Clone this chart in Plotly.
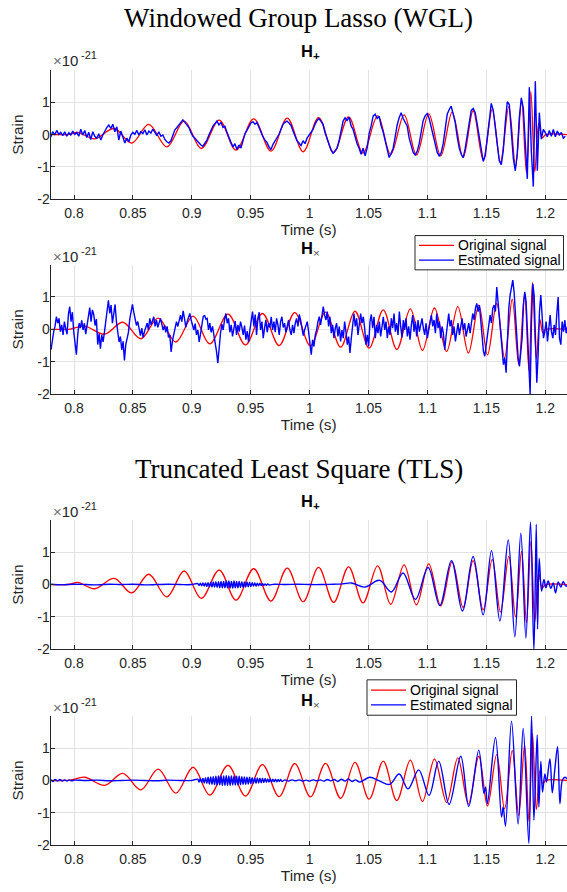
import numpy as np
import plotly.graph_objects as go

# ---------------- data (strain in units of 1e-21, time in s) ----------------
x_ticks = [0.8, 0.85, 0.9, 0.95, 1.0, 1.05, 1.1, 1.15, 1.2]
x_tick_labels = ["0.8", "0.85", "0.9", "0.95", "1", "1.05", "1.1", "1.15", "1.2"]
y_ticks = [-2, -1, 0, 1]
y_tick_labels = ["-2", "-1", "0", "1"]

# original plus polarisation (extrema of the chirp)
orig_plus_t = [0.78, 0.79, 0.7965, 0.803, 0.8175, 0.834, 0.849, 0.8634, 0.8788, 0.8935, 0.908,
               0.9232, 0.9375, 0.9525, 0.9672, 0.981, 0.9945, 1.0076, 1.0204, 1.0331, 1.0453,
               1.0577, 1.0688, 1.0802, 1.0907, 1.1011, 1.1113, 1.121, 1.1303, 1.1388, 1.1473,
               1.155, 1.162, 1.1691, 1.1748, 1.1799, 1.1841, 1.1878, 1.1912, 1.1945, 1.1975,
               1.2005, 1.2185]
orig_plus_v = [0, 0, 0.01, 0.07, -0.13, 0.19, -0.26, 0.32, -0.38, 0.42, -0.43,
               0.45, -0.48, 0.49, -0.51, 0.51, -0.53, 0.53, -0.55, 0.55, -0.57,
               0.58, -0.61, 0.61, -0.63, 0.64, -0.66, 0.70, -0.71, 0.74, -0.78,
               0.78, -0.85, 0.87, -1.0, 1.03, -1.18, 1.33, -1.15, 0.35, -0.1,
               0, 0]

# original cross polarisation
orig_cross_t = [0.78, 0.79, 0.797, 0.809, 0.826, 0.8414, 0.8567, 0.8714, 0.8864, 0.9011, 0.9152,
                0.9307, 0.9455, 0.9599, 0.9741, 0.9874, 1.0007, 1.0135, 1.0263, 1.0385, 1.0505,
                1.0625, 1.074, 1.0855, 1.0958, 1.106, 1.1163, 1.1258, 1.1348, 1.1436, 1.151,
                1.1588, 1.1655, 1.172, 1.1775, 1.1825, 1.1862, 1.1892, 1.1925, 1.1955, 1.198,
                1.2005, 1.2185]
orig_cross_v = [0, 0, 0.01, 0.1, -0.15, 0.22, -0.29, 0.35, -0.39, 0.41, -0.45,
                0.47, -0.48, 0.49, -0.5, 0.52, -0.51, 0.53, -0.55, 0.56, -0.58,
                0.6, -0.62, 0.63, -0.65, 0.66, -0.68, 0.70, -0.73, 0.75, -0.79,
                0.8, -0.88, 0.93, -1.08, 1.1, -1.27, 1.45, -0.9, 0.3, -0.1,
                0, 0]

# WGL estimate, plus polarisation: samples on a regular time grid
wgl_plus_t0 = 0.7802
wgl_plus_dt = 0.0017
wgl_plus_v = [
    -0.07, 0.09, -0.01, 0.13, 0.01, 0.07, -0.03, 0.09, -0.05, 0.06,
    -0.01, 0.11, 0.01, 0.07, -0.05, 0.17, -0.01, 0.13, -0.09, 0.07,
    -0.15, 0.09, -0.05, -0.11, 0.03, -0.17, -0.01, 0.11, 0.22, 0.30,
    0.19, 0.32, 0.09, 0.24, -0.17, 0.11, -0.11, -0.26, -0.11, -0.22,
    -0.01, 0.07, 0.01, 0.13, -0.01, 0.09, 0.03, 0.15, -0.01, 0.11,
    0.05, 0.17, 0.07, -0.03, 0.09, -0.05, -0.01, -0.15, -0.22, -0.26,
    -0.19, -0.01, 0.15, 0.22, 0.30, 0.40, 0.46, 0.38, 0.30, 0.22,
    0.07, -0.05, -0.11, -0.19, -0.24, -0.32, -0.36, -0.28, -0.17, -0.01,
    0.13, 0.26, 0.34, 0.42, 0.30, 0.38, 0.22, 0.26, 0.07, -0.11,
    -0.24, -0.38, -0.28, -0.46, -0.32, -0.42, -0.19, 0.03, 0.13, 0.26,
    0.36, 0.40, 0.32, 0.38, 0.22, 0.09, -0.07, -0.17, -0.24, -0.38,
    -0.46, -0.30, -0.19, -0.11, 0.01, 0.17, 0.32, 0.38, 0.42, 0.36,
    0.28, 0.11, -0.05, -0.19, -0.26, -0.34, -0.19, -0.28, -0.11, -0.01,
    0.07,
    0.16, 0.32, 0.44, 0.50, 0.42, 0.32, 0.06, -0.11, -0.30, -0.48,
    -0.58, -0.48, -0.42, -0.19, 0.13, 0.42, 0.52, 0.44, 0.54, 0.27,
    0.16, -0.09, -0.28, -0.42, -0.61, -0.42, -0.66, -0.42, 0.03, 0.27,
    0.57, 0.63, 0.50, 0.57, 0.27, 0.09, -0.19, -0.50, -0.71, -0.58,
    -0.42, -0.07, 0.30, 0.52, 0.68, 0.50, 0.37, 0.27, -0.11, -0.35,
    -0.55, -0.63, -0.52, -0.28, 0.11, 0.44, 0.58, 0.65, 0.50, 0.22,
    -0.07, -0.35, -0.55, -0.66, -0.56, -0.28, 0.16, 0.63, 0.78, 0.88,
    0.63, 0.37, -0.07, -0.42, -0.61, -0.71, -0.42, -0.03, 0.46, 0.75,
    0.81, 0.68, 0.32, -0.09, -0.52, -0.83, -0.65, -0.09, 0.50, 0.97,
    0.75, 0.22, -0.40, -0.81, -0.93, -0.50, 0.37, 1.02, 0.93, 0.22,
    -0.73, -1.12, -0.58, 0.52, 1.14, 0.83, -0.30, -1.37, 1.47, -0.50,
    -1.61, 1.65, -1.12, 0.68, -0.14, 0.16, 0.06, -0.07, 0.13, -0.05,
    0.16, -0.07, 0.11, -0.01, 0.07, -0.11, -0.05]

# WGL estimate, cross polarisation
wgl_cross_t0 = 0.78045
wgl_cross_dt = 0.001133
wgl_cross_v = [
    -0.63, -0.32, -0.07, 0.09, 0.39, 0.19, 0.34, -0.07, 0.14, -0.17,
    0.24, 0.02, -0.15, 0.46, 0.70, 0.24, 0.53, -0.07, -0.39, -0.78,
    -0.17, 0.19, 0.04, 0.28, -0.02, 0.19, -0.15, 0.09, 0.44, 0.67,
    0.24, 0.60, 0.46, 0.12, 0.32, -0.47, -0.13, -0.60, -0.17, -0.39,
    -0.09, 0.24, 0.67, 0.90, 0.49, 0.75, 0.19, 0.49, 0.77, 0.24,
    -0.05, -0.39, -0.22, -0.63, -0.37, -0.96, -0.47, -0.25, -0.09, 0.32,
    0.53, 0.77, 0.53, 0.29, 0.12, 0.24, -0.05, -0.19, 0.04, -0.25,
    -0.07, 0.09, 0.19, -0.02, 0.34, 0.14, 0.24, 0.39, 0.09, 0.29,
    0.06, 0.24, 0.34, 0.16, -0.02, 0.12, -0.09, 0.09, -0.25, -0.17,
    -0.70, -0.35, -0.17, 0.04, 0.24, 0.09, 0.32, 0.44, 0.24, 0.57,
    0.34, 0.06, 0.24, 0.39, 0.49, 0.29, 0.12, -0.02, 0.18, -0.17,
    -0.02, -0.39, -0.15, 0.06, 0.39, 0.44, 0.32, 0.34, -0.02, 0.19,
    -0.09, 0.09, -0.15, -0.35, -0.68, -1.04, -0.47, -0.12, 0.16, -0.02,
    0.29, 0.49, 0.19, 0.34, -0.09, 0.14, -0.22, 0.02, 0.26, -0.17,
    0.14, -0.07, 0.24, 0.06, -0.17, 0.12, -0.32, -0.05, -0.39, -0.02,
    0.29, 0.55, 0.09, 0.46, -0.17, 0.34, 0.53, -0.02, 0.24, -0.27,
    0.04, 0.29, -0.09, 0.19, 0.06, 0.39, -0.02, 0.24, -0.09, 0.34,
    0.14, -0.17, 0.24, 0.39, 0.06, 0.19, -0.09, 0.14, 0.29, -0.02,
    -0.17, 0.14, -0.12, 0.19, 0.34, 0.09, 0.46, 0.29, 0.02, -0.19,
    -0.02, 0.09, 0.24, -0.07, -0.37, -0.78,
    -0.32, -0.53, -0.17, -0.02, 0.24, 0.39, 0.14, 0.49, 0.70, 0.44,
    0.29, 0.55, 0.09, 0.39, -0.12, 0.14, -0.27, 0.04, 0.19, -0.22,
    0.09, -0.37, -0.02, -0.27, 0.24, -0.07, -0.47, -0.22, -0.73, -0.27,
    0.24, 0.49, 0.09, 0.34, -0.17, 0.24, 0.49, 0.19, 0.39, 0.04,
    -0.47, -0.17, -0.53, 0.24, 0.46, 0.04, 0.39, -0.27, 0.14, -0.12,
    0.24, -0.22, 0.19, 0.39, -0.02, 0.24, -0.27, 0.09, -0.17, 0.34,
    0.04, 0.49, -0.07, 0.19, -0.17, 0.55, 0.09, -0.25, 0.29, -0.02,
    0.34, -0.22, 0.09, -0.32, 0.14, 0.44, -0.07, 0.24, -0.22, 0.29,
    -0.07, 0.14, 0.34, 0.04, -0.17, 0.19, -0.27, -0.02, 0.24, 0.44,
    0.09, 0.29, -0.12, 0.49, 0.04, 0.24, -0.27, 0.09, -0.12, -0.63,
    -0.22, 0.19, 0.49, 0.09, 0.29, -0.17, 0.09, -0.37, -0.07, 0.19,
    -0.17, 0.09, 0.34, -0.02, 0.19, -0.22, 0.04, 0.19, -0.12, 0.14,
    0.49, 0.29, 0.65, 0.80, 0.55, 0.75, 0.24, -0.17, -0.68, -0.83,
    -0.47, -0.12, 0.14, 0.44, 0.19, 0.65, 0.75, 0.55, 1.31, 0.85,
    0.24, -0.32, -0.68, -1.09, -0.88, -1.34, -0.37, 0.65, 1.06, 1.31,
    1.52, 1.16, 0.44, -0.37, -0.88, -1.14, -0.78, -0.27, 0.75, 1.16,
    0.85, -0.07, -1.09, -2.0, 0.24, 1.41, 1.06, -0.07, -1.65, -0.78,
    0.55, 1.06, 0.14, -0.27, -0.07, 0.24, -0.37, 0.09, 0.44, -0.07,
    -0.27, 0.14, -0.17, 0.49, 1.0, -0.27, -0.47, 0.24, -0.07, 0.29,
    -0.12, 0.09]

# TLS estimate, plus polarisation
tls_plus_head_t = [0.78, 0.79, 0.80, 0.81, 0.82, 0.83, 0.84, 0.85, 0.86, 0.87, 0.88, 0.89, 0.90]
tls_plus_head_v = [0.01, -0.01, 0.01, 0.0, -0.01, 0.01, 0.0, 0.01, -0.01, 0.0, 0.01, 0.0, 0.0]
tls_plus_ripple_t0 = 0.905
tls_plus_ripple_dt = 0.0011
tls_plus_ripple_v = [
    0.03, -0.03, 0.04, -0.04, 0.05, -0.05, 0.05, -0.06, 0.06, -0.07,
    0.07, -0.08, 0.08, -0.08, 0.09, -0.09, 0.09, -0.1, 0.1, -0.1,
    0.1, -0.1, 0.11, -0.1, 0.11, -0.11, 0.1, -0.11, 0.11, -0.1,
    0.1, -0.1, 0.1, -0.09, 0.09, -0.09, 0.08, -0.08, 0.08, -0.07,
    0.07, -0.06, 0.06, -0.05, 0.05, -0.05, 0.04, -0.04, 0.04, -0.03,
    0.03, -0.03, 0.02, -0.02, 0.02, -0.01]
tls_plus_tail_t = [0.97, 0.98, 0.99, 1.0, 1.01, 1.02, 1.028, 1.0354, 1.0467, 1.0595, 1.0694,
                   1.0793, 1.0898, 1.1006, 1.1105, 1.1204, 1.1297, 1.1388, 1.1473, 1.1544,
                   1.1615, 1.1686, 1.1742, 1.1793, 1.1836, 1.1875, 1.1904, 1.1924, 1.1935,
                   1.1949, 1.1969, 1.1989, 1.2006, 1.2025, 1.2048, 1.2068, 1.2088, 1.211,
                   1.2133, 1.2153, 1.2176, 1.22]
tls_plus_tail_v = [0.01, 0.0, 0.01, 0.0, 0.0, 0.01, 0.02, 0.05, -0.08, 0.13, -0.23,
                   0.36, -0.46, 0.53, -0.65, 0.74, -0.82, 0.87, -0.94, 1.05,
                   -1.13, 1.38, -1.62, 1.59, -1.66, 1.93, -2.05, 1.87, -1.38,
                   0.82, -0.2, 0.16, -0.1, 0.11, -0.12, 0.05, -0.26, 0.08,
                   -0.08, 0.1, -0.05, 0.02]

# TLS estimate, cross polarisation
tls_cross_head_t = [0.78, 0.782, 0.784, 0.786, 0.788, 0.79, 0.792, 0.794, 0.796, 0.798, 0.80,
                    0.81, 0.82, 0.83, 0.84, 0.85, 0.86, 0.87, 0.88, 0.89, 0.90]
tls_cross_head_v = [0.03, -0.03, 0.03, -0.02, 0.03, -0.02, 0.02, -0.02, 0.02, -0.01, 0.01,
                    0.0, 0.01, -0.01, 0.0, 0.01, 0.0, -0.01, 0.01, 0.0, 0.0]
tls_cross_ripple_t0 = 0.905
tls_cross_ripple_dt = 0.0011
tls_cross_ripple_v = [
    0.04, -0.05, 0.06, -0.06, 0.07, -0.08, 0.09, -0.09, 0.1, -0.11,
    0.11, -0.12, 0.12, -0.13, 0.13, -0.14, 0.14, -0.14, 0.14, -0.15,
    0.14, -0.15, 0.15, -0.15, 0.14, -0.15, 0.14, -0.14, 0.14, -0.14,
    0.13, -0.14, 0.13, -0.13, 0.12, -0.12, 0.11, -0.12, 0.1, -0.11,
    0.1, -0.1, 0.09, -0.09, 0.08, -0.09, 0.08, -0.08, 0.07, -0.07,
    0.07, -0.06, 0.06, -0.06, 0.05, -0.05, 0.05, -0.05, 0.04, -0.04,
    0.04, -0.04, 0.03, -0.03, 0.03, -0.03]
tls_cross_tail_t = [0.979, 0.982, 0.985, 0.988, 0.991, 0.994, 0.997, 1.0, 1.003, 1.006, 1.009,
                    1.012, 1.015, 1.018, 1.021, 1.024, 1.027, 1.030, 1.033, 1.036, 1.039,
                    1.0425, 1.051, 1.0595, 1.068, 1.076, 1.0836, 1.0926, 1.1014, 1.1096,
                    1.1184, 1.1283, 1.1351, 1.1436, 1.148, 1.1494, 1.1509, 1.1578, 1.1629,
                    1.1643, 1.1663, 1.1714, 1.177, 1.1813, 1.1861, 1.1884, 1.1904, 1.1932,
                    1.1946, 1.1963, 1.1977, 1.1997, 1.2011, 1.204, 1.206, 1.2082, 1.2105,
                    1.2125, 1.2145, 1.2167, 1.2185]
tls_cross_tail_v = [0.02, -0.02, 0.02, -0.01, 0.02, -0.02, 0.01, -0.02, 0.02, -0.01, 0.02,
                    -0.02, 0.03, -0.01, 0.03, -0.03, 0.04, -0.02, 0.05, -0.03, 0.02,
                    -0.05, 0.1, -0.02, -0.12, 0.2, -0.26, 0.33, -0.46, 0.6,
                    -0.74, 0.75, -0.8, 0.94, -0.4, -0.2, -0.72, 1.33, -1.13,
                    -0.82, -1.41, 1.84, -1.35, 1.61, -1.95, 2.0, -1.23, 1.41,
                    -0.82, 0.6, -0.36, 0.2, -0.05, 0.67, -0.38, 0.36, 1.05,
                    -0.72, 0.0, 0.1, 0.05]

# ---------------- assemble series ----------------
wgl_plus_t = wgl_plus_t0 + wgl_plus_dt * np.arange(len(wgl_plus_v))
wgl_cross_t = wgl_cross_t0 + wgl_cross_dt * np.arange(len(wgl_cross_v))
tls_plus_t = np.concatenate([tls_plus_head_t,
                             tls_plus_ripple_t0 + tls_plus_ripple_dt * np.arange(len(tls_plus_ripple_v)),
                             tls_plus_tail_t])
tls_plus_v = tls_plus_head_v + tls_plus_ripple_v + tls_plus_tail_v
tls_cross_t = np.concatenate([tls_cross_head_t,
                              tls_cross_ripple_t0 + tls_cross_ripple_dt * np.arange(len(tls_cross_ripple_v)),
                              tls_cross_tail_t])
tls_cross_v = tls_cross_head_v + tls_cross_ripple_v + tls_cross_tail_v

# ---------------- layout helpers ----------------
W, H = 567, 892
RED = "#ff0000"
BLUE = "#0000ff"
AX = "#262626"
GRID = "#e2e2e2"
SANS = "Liberation Sans, Arial, sans-serif"
SERIF = "Liberation Serif, Times New Roman, serif"

def px(xp):
    return xp / W

def py(yp):
    return 1 - yp / H

panels = [  # (top px, bottom px)
    (70.7, 201.0),
    (267.0, 397.7),
    (524.7, 655.0),
    (722.4, 852.7),
]
x_dom = [50.5 / W, 1.0]

fig = go.Figure()

series = [
    (orig_plus_t, orig_plus_v, wgl_plus_t, wgl_plus_v, "linear"),
    (orig_cross_t, orig_cross_v, wgl_cross_t, wgl_cross_v, "linear"),
    (orig_plus_t, orig_plus_v, tls_plus_t, tls_plus_v, "spline"),
    (orig_cross_t, orig_cross_v, tls_cross_t, tls_cross_v, "spline"),
]

for i, (ot, ov, et, ev, shape) in enumerate(series):
    suf = "" if i == 0 else str(i + 1)
    fig.add_trace(go.Scatter(x=ot, y=ov, mode="lines", name="Original signal",
                             line=dict(color=RED, width=1.3, shape="spline", smoothing=1.0),
                             xaxis="x" + suf, yaxis="y" + suf, showlegend=False))
    fig.add_trace(go.Scatter(x=et, y=ev, mode="lines", name="Estimated signal",
                             line=dict(color=BLUE, width=1.4, shape=shape),
                             xaxis="x" + suf, yaxis="y" + suf, showlegend=False))

layout = dict(
    width=W, height=H,
    margin=dict(l=0, r=0, t=0, b=0),
    paper_bgcolor="white", plot_bgcolor="white",
    showlegend=False,
)

for i, (top, bot) in enumerate(panels):
    suf = "" if i == 0 else str(i + 1)
    layout["xaxis" + suf] = dict(
        domain=x_dom, range=[0.78, 1.2185], anchor="y" + suf,
        tickmode="array", tickvals=x_ticks, ticktext=x_tick_labels,
        showgrid=True, gridcolor=GRID, gridwidth=1, zeroline=False,
        showline=True, linecolor=AX, linewidth=1,
        ticks="inside", ticklen=4, tickcolor=AX, ticklabelstandoff=1,
        tickfont=dict(family=SANS, size=14, color=AX),
        title=dict(text="Time (s)", font=dict(family=SANS, size=15.4, color=AX), standoff=0),
    )
    layout["yaxis" + suf] = dict(
        domain=[py(bot), py(top)], range=[-2, 2], anchor="x" + suf,
        tickmode="array", tickvals=y_ticks, ticktext=y_tick_labels,
        showgrid=True, gridcolor=GRID, gridwidth=1, zeroline=False,
        showline=True, linecolor=AX, linewidth=1,
        ticks="inside", ticklen=4, tickcolor=AX, ticklabelstandoff=-3,
        tickfont=dict(family=SANS, size=14, color=AX),
        title=dict(text="Strain", font=dict(family=SANS, size=15.4, color=AX), standoff=9),
    )

fig.update_layout(**layout)

ann = []
# section titles
ann.append(dict(text="Windowed Group Lasso (WGL)", x=px(298), y=py(18.5), xref="paper", yref="paper",
                xanchor="center", yanchor="middle", showarrow=False,
                font=dict(family=SERIF, size=27, color="black")))
ann.append(dict(text="Truncated Least Square (TLS)", x=px(298.5), y=py(473), xref="paper", yref="paper",
                xanchor="center", yanchor="middle", showarrow=False,
                font=dict(family=SERIF, size=27, color="black")))
# panel titles and exponent labels
sub_titles = ["<b>H<sub>+</sub></b>", "<b>H</b><sub><span style='color:#555'>×</span></sub>",
              "<b>H<sub>+</sub></b>", "<b>H</b><sub><span style='color:#555'>×</span></sub>"]
sub_title_y = [52, 251, 507, 707]
exp_y = [61.5, 259, 515.8, 714.2]
for i in range(4):
    ann.append(dict(text=sub_titles[i], x=px(310), y=py(sub_title_y[i]), xref="paper", yref="paper",
                    xanchor="center", yanchor="middle", showarrow=False,
                    font=dict(family=SANS, size=16.5, color="black")))
    ann.append(dict(text="<span style='color:#707070'>×</span>10", x=px(51), y=py(exp_y[i]),
                    xref="paper", yref="paper",
                    xanchor="left", yanchor="middle", showarrow=False,
                    font=dict(family=SANS, size=15, color=AX)))
    ann.append(dict(text="-21", x=px(79), y=py(exp_y[i] - 5.5), xref="paper", yref="paper",
                    xanchor="left", yanchor="middle", showarrow=False,
                    font=dict(family=SANS, size=11, color=AX)))

# legends (panel 2 and panel 4)
shapes = []
for (bx0, by0, bx1, by1) in [(415, 237.7, 563.5, 272.3), (367, 686, 516.5, 721.7)]:
    shapes.append(dict(type="rect", xref="paper", yref="paper", x0=px(bx0), x1=px(bx1),
                       y0=py(by1), y1=py(by0), line=dict(color=AX, width=1), fillcolor="white",
                       layer="above"))
    cy = (by0 + by1) / 2
    for k, (col, label) in enumerate([(RED, "Original signal"), (BLUE, "Estimated signal")]):
        ly = cy - 7.5 + 15 * k
        shapes.append(dict(type="line", xref="paper", yref="paper", x0=px(bx0 + 4), x1=px(bx0 + 39),
                           y0=py(ly), y1=py(ly), line=dict(color=col, width=1.3), layer="above"))
        ann.append(dict(text=label, x=px(bx0 + 41), y=py(ly), xref="paper", yref="paper",
                        xanchor="left", yanchor="middle", showarrow=False,
                        font=dict(family=SANS, size=14, color="black")))

fig.update_layout(annotations=ann, shapes=shapes)
fig.write_html("out.html", config={"displayModeBar": False},
               post_script="document.body.style.margin='0px';")
